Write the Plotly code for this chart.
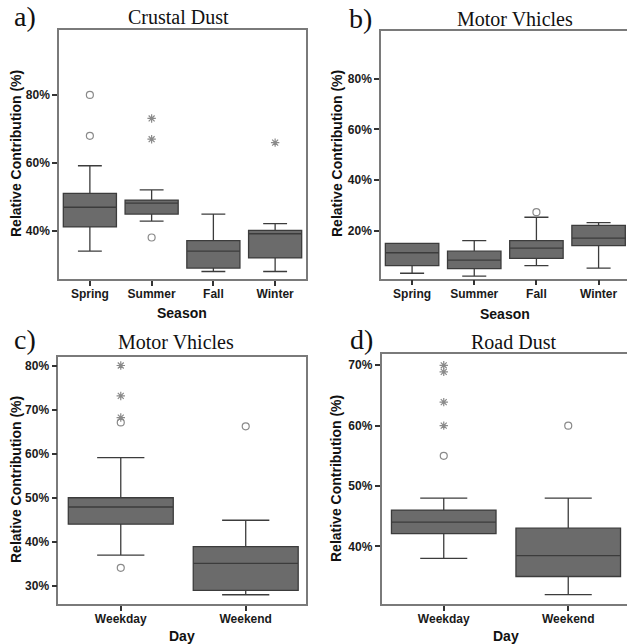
import plotly.graph_objects as go

seasons = ["Spring", "Summer", "Fall", "Winter"]
days = ["Weekday", "Weekend"]

# a) Crustal Dust by season
a_q1 = [41.2, 45.0, 29.1, 32.1]
a_med = [47.0, 48.2, 34.1, 39.2]
a_q3 = [51.1, 49.1, 37.2, 40.2]
a_lo = [34.1, 42.9, 28.1, 28.1]
a_hi = [59.2, 52.1, 45.0, 42.2]
a_circ_x = ["Spring", "Spring", "Summer"]
a_circ_y = [80.0, 68.0, 38.1]
a_star_x = ["Summer", "Summer", "Winter"]
a_star_y = [73.1, 67.0, 66.0]

# b) Motor Vhicles by season
b_q1 = [6.2, 5.0, 9.1, 14.1]
b_med = [11.3, 8.4, 13.1, 17.1]
b_q3 = [15.0, 11.9, 16.1, 22.1]
b_lo = [3.2, 2.1, 6.2, 5.2]
b_hi = [15.0, 16.1, 25.3, 23.2]
b_circ_x = ["Fall"]
b_circ_y = [27.3]

# c) Motor Vhicles by day
c_q1 = [44.0, 29.0]
c_med = [47.9, 35.1]
c_q3 = [50.0, 38.9]
c_lo = [37.0, 28.0]
c_hi = [59.1, 44.9]
c_circ_x = ["Weekday", "Weekday", "Weekend"]
c_circ_y = [34.1, 67.1, 66.2]
c_star_x = ["Weekday", "Weekday", "Weekday"]
c_star_y = [80.0, 73.1, 68.2]

# d) Road Dust by day
d_q1 = [42.1, 35.0]
d_med = [44.0, 38.45]
d_q3 = [46.0, 43.0]
d_lo = [38.0, 32.0]
d_hi = [48.0, 48.0]
d_circ_x = ["Weekday", "Weekend"]
d_circ_y = [55.0, 60.0]
d_star_x = ["Weekday", "Weekday", "Weekday", "Weekday"]
d_star_y = [70.0, 68.9, 63.9, 60.0]

W, H = 627, 644
BOX_FILL = "#6b6b6b"
BOX_LINE = "#3c3c3c"
PT_COL = "#8a8a8a"
FRAME = "#7a7a7a"
SANS = "Liberation Sans, Arial, sans-serif"
SERIF = "Liberation Serif, Times New Roman, serif"

fig = go.Figure()

panels = [
    ("x", "y", seasons, a_q1, a_med, a_q3, a_lo, a_hi, a_circ_x, a_circ_y, a_star_x, a_star_y, 0.86),
    ("x2", "y2", seasons, b_q1, b_med, b_q3, b_lo, b_hi, b_circ_x, b_circ_y, [], [], 0.86),
    ("x3", "y3", days, c_q1, c_med, c_q3, c_lo, c_hi, c_circ_x, c_circ_y, c_star_x, c_star_y, 0.84),
    ("x4", "y4", days, d_q1, d_med, d_q3, d_lo, d_hi, d_circ_x, d_circ_y, d_star_x, d_star_y, 0.84),
]

for xa, ya, cats, q1, med, q3, lo, hi, cx, cy, sx, sy, bw in panels:
    fig.add_trace(go.Box(
        x=cats, q1=q1, median=med, q3=q3, lowerfence=lo, upperfence=hi,
        xaxis=xa, yaxis=ya, boxpoints=False, width=bw, whiskerwidth=0.45,
        fillcolor=BOX_FILL, line=dict(color=BOX_LINE, width=1.3),
        showlegend=False, hoverinfo="skip"))
    fig.add_trace(go.Scatter(
        x=cx, y=cy, xaxis=xa, yaxis=ya, mode="markers", showlegend=False,
        marker=dict(symbol="circle-open", size=7, color=PT_COL, line=dict(width=1.2))))
    if sx:
        fig.add_trace(go.Scatter(
            x=sx, y=sy, xaxis=xa, yaxis=ya, mode="markers", showlegend=False,
            marker=dict(symbol="asterisk-open", size=7, color=PT_COL, line=dict(width=1.2, color=PT_COL))))

def px_x(p):
    return p / W

def px_y(p):
    return 1 - p / H

tickfont = dict(family=SANS, size=12, color="#1a1a1a", weight="bold")

def xaxis(dom, rng, cats, anchor):
    return dict(domain=dom, range=rng, type="category", categoryorder="array", categoryarray=cats,
                anchor=anchor, ticklabelstandoff=-2,
                showline=True, mirror=True, linecolor=FRAME, linewidth=1.5,
                ticks="outside", ticklen=5, tickwidth=1.5, tickcolor="#333",
                tickfont=tickfont, showgrid=False, zeroline=False, fixedrange=True)

def yaxis(dom, rng, tv, mirror, anchor):
    return dict(domain=dom, range=rng, tickvals=tv, ticktext=[f"{v}%" for v in tv],
                anchor=anchor,
                showline=True, mirror=mirror, linecolor=FRAME, linewidth=1.5,
                ticks="outside", ticklen=5, tickwidth=1.5, tickcolor="#333",
                tickfont=tickfont, showgrid=False, zeroline=False, fixedrange=True)

fig.update_layout(
    width=W, height=H, margin=dict(l=0, r=0, t=0, b=0),
    paper_bgcolor="white", plot_bgcolor="white",
    xaxis=xaxis([px_x(59), px_x(306)], [-0.5, 3.5], seasons, "y"),
    yaxis=yaxis([px_y(279), px_y(30)], [25.9, 99.1], [40, 60, 80], True, "x"),
    xaxis2=xaxis([px_x(381), 1.0], [-0.5, 3.457], seasons, "y2"),
    yaxis2=yaxis([px_y(278.7), px_y(31)], [1.05, 98.8], [20, 40, 60, 80], False, "x2"),
    xaxis3=xaxis([px_x(58.3), px_x(305.7)], [-0.5, 1.48], days, "y3"),
    yaxis3=yaxis([px_y(604), px_y(356.7)], [25.9, 82.0], [30, 40, 50, 60, 70, 80], True, "x3"),
    xaxis4=xaxis([px_x(381.5), 1.0], [-0.5, 1.472], days, "y4"),
    yaxis4=yaxis([px_y(604), px_y(354)], [30.44, 71.87], [40, 50, 60, 70], False, "x4"),
)

ann = []
def text(x, y, s, size, family, bold=False, angle=0):
    ann.append(dict(x=px_x(x), y=px_y(y), xref="paper", yref="paper", text=s, showarrow=False,
                    xanchor="center", yanchor="middle", textangle=angle,
                    font=dict(family=family, size=size, color="#111",
                              weight="bold" if bold else "normal")))

# panel letters
text(25, 16, "a)", 28, SERIF)
text(360, 18, "b)", 28, SERIF)
text(25, 339, "c)", 28, SERIF)
text(361, 339, "d)", 28, SERIF)
# panel titles
text(178, 17, "Crustal Dust", 20, SERIF)
text(515, 19, "Motor Vhicles", 20, SERIF)
text(176, 342, "Motor Vhicles", 20, SERIF)
text(513, 342, "Road Dust", 20, SERIF)
# axis titles
text(16, 154, "Relative Contribution (%)", 14, SANS, True, -90)
text(337, 154, "Relative Contribution (%)", 14, SANS, True, -90)
text(16, 480, "Relative Contribution (%)", 14, SANS, True, -90)
text(336, 479, "Relative Contribution (%)", 14, SANS, True, -90)
text(182, 313, "Season", 14, SANS, True)
text(505, 314, "Season", 14, SANS, True)
text(182, 636, "Day", 14, SANS, True)
text(506, 636, "Day", 14, SANS, True)

fig.update_layout(annotations=ann)
fig.write_html("out.html")
